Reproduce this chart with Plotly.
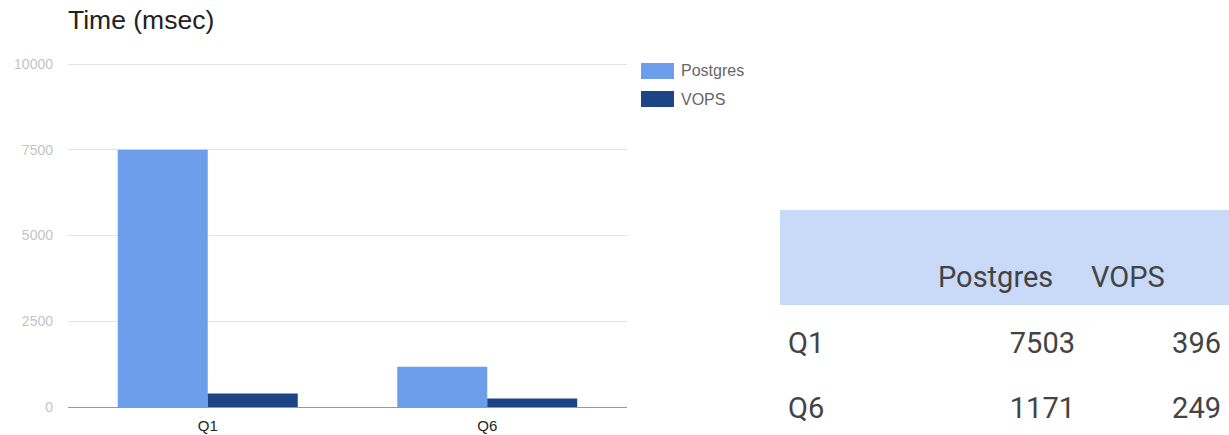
import plotly.graph_objects as go

queries = ["Q1", "Q6"]
series_names = ["Postgres", "VOPS"]
postgres = [7503, 1171]
vops = [396, 249]
colors = ["#6d9eeb", "#1c4587"]
y_ticks = [0, 2500, 5000, 7500, 10000]
y_ticktext = ["0", "2500", "5000", "7500", "10000"]
title = "Time (msec)"

W, H = 1229, 435
fig = go.Figure()
for name, vals, col in zip(series_names, [postgres, vops], colors):
    fig.add_trace(go.Bar(x=queries, y=vals, name=name, marker=dict(color=col, line=dict(width=0)),
                         showlegend=False, xaxis="x", yaxis="y"))

col_w = [150, 153, 146]
tfont = dict(family="Roboto", size=29, color="#434343")
# table header band (two header rows so the labels sit low in the band)
fig.add_trace(go.Table(
    domain=dict(x=[780 / W, 1.0], y=[(H - 305) / H, (H - 210) / H]),
    columnwidth=col_w,
    header=dict(values=[["", ""], ["", series_names[0]], ["", series_names[1]]],
                fill_color="#c9daf8", line_color="#c9daf8", height=47.5,
                align="left", font=tfont),
    cells=dict(values=[[], [], []], height=1),
))
# table body
fig.add_trace(go.Table(
    domain=dict(x=[780 / W, 1.0], y=[0, (H - 322) / H]),
    columnwidth=col_w,
    header=dict(values=["", "", ""], height=1, fill_color="white", line_color="white",
                font=dict(size=1, color="white")),
    cells=dict(values=[queries, [str(v) for v in postgres], [str(v) for v in vops]],
               fill_color="white", line_color="white", height=65,
               align=["left", "right", "right"], font=tfont),
))

# legend drawn manually
leg_y = [71, 99]
for i, (name, col) in enumerate(zip(series_names, colors)):
    fig.add_shape(type="rect", xref="paper", yref="paper",
                  x0=641 / W, x1=674 / W, y0=(H - leg_y[i] - 8) / H, y1=(H - leg_y[i] + 8) / H,
                  fillcolor=col, line=dict(width=0))
    fig.add_annotation(x=679 / W, y=(H - leg_y[i]) / H, xref="paper", yref="paper",
                       text=name, showarrow=False, xanchor="left", yanchor="middle",
                       font=dict(family="Arial", size=16, color="#666"))

fig.add_annotation(x=66 / W, y=(H - 20) / H, xref="paper", yref="paper", text=title,
                   showarrow=False, xanchor="left", yanchor="middle",
                   font=dict(family="Arial", size=26.5, color="#222"))

fig.update_layout(
    width=W, height=H, margin=dict(l=0, r=0, t=0, b=0, autoexpand=False),
    paper_bgcolor="white", plot_bgcolor="white",
    barmode="group", bargap=0.356, bargroupgap=0.0,
    xaxis=dict(domain=[68 / W, 627 / W], showgrid=False, showline=False, zeroline=False,
               automargin=False,
               ticks="", tickfont=dict(family="Arial", size=15, color="#222"),
               ticklabelstandoff=8),
    yaxis=dict(domain=[(H - 407) / H, (H - 60.6) / H], range=[0, 10100], tickvals=y_ticks,
               ticktext=y_ticktext, automargin=False,
               showgrid=True, gridcolor="#e3e3e3", gridwidth=1, zeroline=True,
               zerolinecolor="#999", zerolinewidth=1, showline=False, ticks="", ticklen=0,
               tickfont=dict(family="Arial", size=14, color="#c4c4c4"), ticklabelstandoff=14),
    showlegend=False,
)
fig.write_html("out.html")
